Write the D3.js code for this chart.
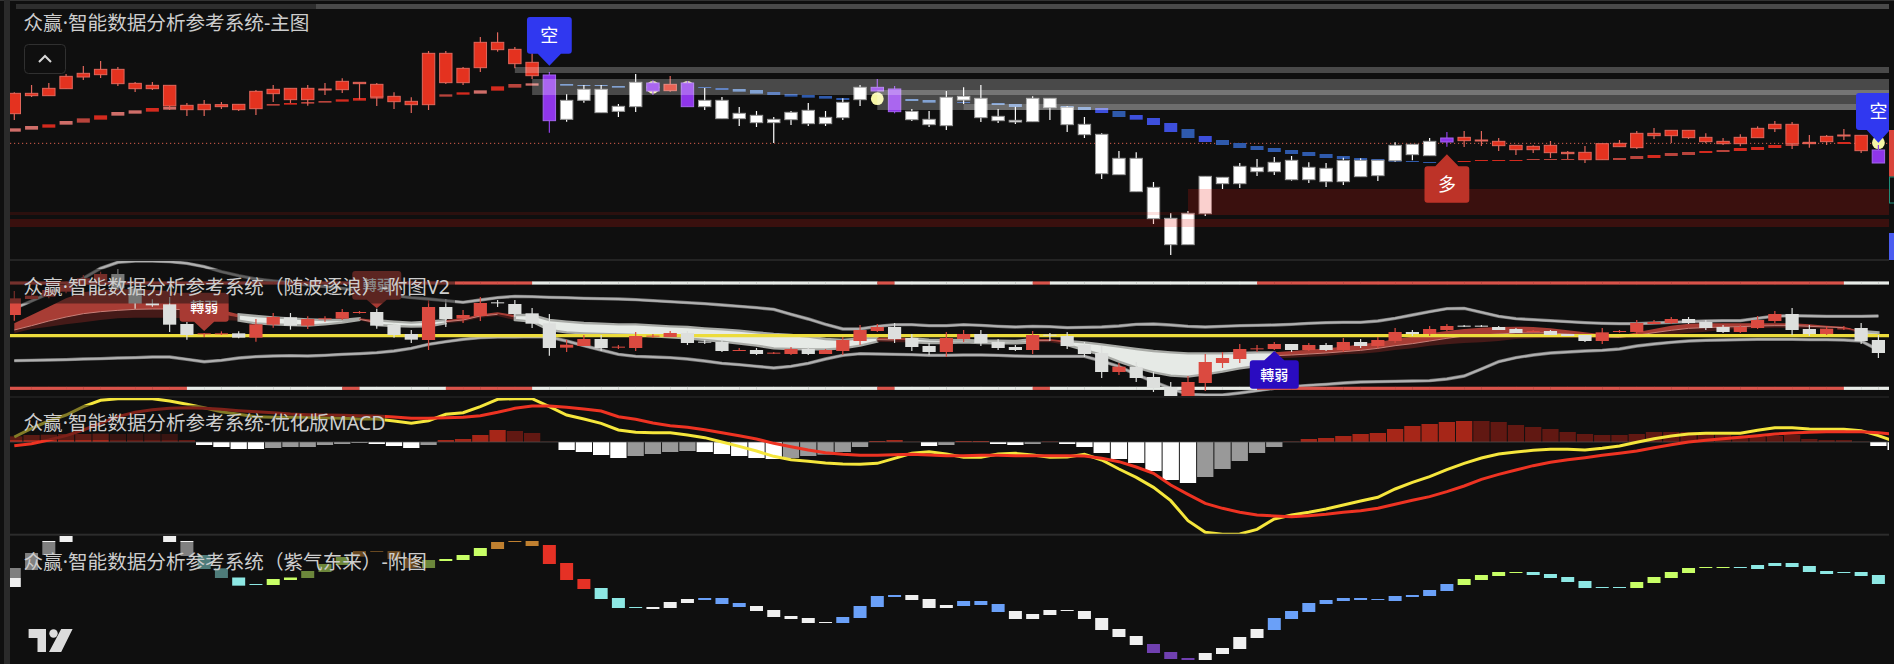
<!DOCTYPE html>
<html><head><meta charset="utf-8">
<script src="https://cdn.jsdelivr.net/npm/d3@7/dist/d3.min.js"></script>
<style>html,body{margin:0;background:#0f0f0f;overflow:hidden}svg{display:block}text{font-family:"Noto Sans","Noto Sans CJK SC",sans-serif}</style>
</head><body><div id="chart"></div>
<script>
const _ = null;
const titles = ["众赢·智能数据分析参考系统-主图","众赢·智能数据分析参考系统（随波逐浪）-附图V2","众赢·智能数据分析参考系统-优化版MACD","众赢·智能数据分析参考系统（紫气东来）-附图"];

// main pane, levels (larger level = lower on the page)
const mainHigh=[277,255,249,222,198,183,201,246,246,256,309,300,306,313,270,255,265,255,249,235,247,249,277,292,153,153,201,111,97,141,160,216,283,255,255,312,222,241,228,243,264,291,321,333,351,333,309,333,295,255,237,258,327,333,273,262,255,327,320,289,295,318,351,400,453,457,546,640,633,529,532,489,477,471,468,487,489,473,475,481,427,433,414,396,393,393,414,436,436,423,453,438,431,420,393,384,391,391,400,414,403,379,363,366,405,405,387,406,435];
const mainBodyTop=[280,280,265,229,220,208,208,250,256,256,316,313,314,313,274,268,265,265,267,244,247,253,289,304,160,160,205,127,127,148,187,225,301,268,268,319,247,249,253,249,301,301,340,346,358,337,331,352,307,262,262,267,334,358,292,289,295,349,361,295,295,322,373,403,475,475,562,655,640,529,532,499,502,487,481,502,505,481,481,481,436,433,424,414,412,420,424,436,439,436,457,457,431,430,400,400,391,391,412,424,412,385,373,373,427,409,405,406,450];
const mainBodyBot=[341,287,287,266,231,224,251,266,266,318,329,329,320,329,326,281,299,299,269,269,251,291,305,314,314,248,248,203,149,191,227,362,358,301,338,334,320,273,272,320,320,356,356,368,368,359,371,371,353,299,273,335,359,374,377,300,353,362,366,365,323,374,404,521,524,575,656,734,734,641,551,551,515,515,539,539,545,545,530,527,482,464,467,426,422,422,437,449,449,458,461,479,479,440,443,407,407,413,425,431,431,413,386,431,431,425,407,452,489];
const mainLow=[360,291,287,266,240,234,258,276,270,330,348,348,327,333,345,306,309,317,285,279,298,318,327,339,330,252,255,216,155,205,237,398,365,308,338,351,336,285,275,320,330,356,378,381,429,375,378,378,360,318,273,340,363,381,390,312,366,369,372,365,360,396,414,537,524,575,672,765,734,648,567,564,528,525,542,549,561,555,530,543,485,481,467,440,441,438,453,465,459,474,477,489,479,441,447,417,429,417,430,435,439,413,396,447,443,435,420,459,489];
const mainKindRuns=[["r",31],["p",1],["w",5],["p",1],["r",1],["p",1],["w",10],["p",2],["w",31],["p",1],["r",24],["p",1]];
const midTop=[385,378,373,363,355,346,336,331,324,321,_,_,_,_,_,312,309,306,303,298,294,289,_,_,_,283,277,271,259,252,250,_,252,255,255,258,_,_,_,_,261,264,267,270,276,282,285,288,294,_,_,_,297,300,_,306,_,309,312,_,_,318,321,324,333,345,354,369,387,408,420,429,438,444,450,456,462,468,474,477,482,483,486,_,483,480,480,480,477,477,477,_,_,474,468,465,459,456,453,450,444,441,435,432,426,_,426,_,_];
const midBot=[395,389,383,374,368,359,347,341,335,329,_,_,_,_,_,317,314,311,308,305,302,296,_,_,_,290,284,281,272,263,257,_,257,258,258,263,_,_,_,_,264,270,275,281,285,290,293,296,300,_,_,_,303,308,_,309,_,315,321,_,_,324,330,339,351,359,375,396,414,426,435,444,450,456,462,468,474,477,482,483,485,485,489,_,485,483,483,483,479,479,479,_,_,480,477,474,468,465,459,456,453,450,444,438,432,_,432,_,_];
const midTone="kkxkmxkkxk.....mxmmxxm...mxkxmk.aaaa....ccaaccccc...aa.c.aa..aavcvvvcvccccccccccccc.xxxxmmm..mmxmmxmxxxmx.x..";
const dotIndex=[37,39,50,108];
const dotLevel=[262,262,296,428];
const greyBands=[[201,219,29],[237,285,30],[270,330,50],[312,330,55]];
const redBands=[[636,645,0,68,0.13],[657,681,0,108,0.2],[567,645,68,108,0.2]];
const dottedLevel=430;
const mainMarkers=[[31,197,51,161,"空","#3038f0"],[108,428,279,390,"空","#3038f0"],[83,463,499,608,"多","#bd3328"]];

// second pane
const subHigh=[108,110,95,80,60,50,42,100,133,126,201,234,229,229,192,174,174,184,184,162,168,161,205,225,135,132,165,126,135,135,159,177,254,240,240,270,231,237,228,228,255,252,279,279,291,276,276,282,246,210,207,204,237,264,231,225,225,252,270,228,234,231,261,273,324,321,351,381,363,297,291,267,270,261,267,264,264,249,252,246,219,225,213,207,210,210,213,219,225,225,237,240,219,225,195,195,186,186,195,210,210,183,168,159,210,213,213,204,240];
const subTop=[130,122,105,90,70,57,57,100,145,148,207,235,235,235,208,186,187,192,190,171,171,171,210,237,156,156,180,144,142,147,175,205,269,252,252,275,243,242,234,234,260,261,285,285,293,282,282,285,255,225,216,216,249,273,249,237,237,261,276,240,239,243,270,294,335,336,366,396,381,321,309,282,280,267,267,270,270,261,261,255,231,231,222,213,212,212,216,222,228,228,237,240,232,228,204,201,192,192,201,216,216,195,177,177,222,221,220,219,255];
const subBot=[180,132,125,110,88,77,100,145,151,209,240,237,237,248,248,209,212,212,192,191,173,212,240,254,255,192,191,183,144,177,206,279,278,273,279,277,279,244,246,264,262,288,287,297,295,297,297,297,288,258,228,252,276,291,291,252,264,279,285,285,241,273,297,351,351,369,399,426,426,384,324,312,282,282,285,285,285,285,273,273,258,237,237,225,214,214,225,234,230,240,243,258,258,230,231,207,204,204,219,231,231,219,198,225,237,237,222,258,294];
const subLow=[197,134,130,115,92,80,105,161,155,231,254,246,240,250,260,218,224,222,200,195,176,221,248,264,285,216,204,198,156,186,219,302,291,273,288,282,288,249,246,270,267,291,288,300,297,300,300,297,300,270,231,264,288,300,306,261,273,285,288,297,258,282,306,369,360,381,411,427,427,408,339,324,291,285,291,288,288,291,279,279,264,243,243,228,216,216,225,234,232,240,243,261,267,233,237,207,207,207,225,234,234,222,204,240,243,240,225,267,309];
const subKind="rrrrrrwwww"+"wrrwrrwrrr"+"rwwwrwrrww"+"wwrrwrrrrw"+"wwrwrrwrrr"+"rwwwrrwwwr"+"wwwwrwwwrr"+"rrrrwrwrwr"+"rwrrwwwwrw"+"wwrrrrrwww"+"rrrwwrrww";
const upperBand=[160,138,115,95,70,40,22,18,18,20,25,35,50,62,72,78,83,90,95,100,108,116,122,128,132,137,142,135,128,124,125,127,128,130,131,132,134,137,140,143,146,150,154,158,163,178,192,208,222,222,214,209,209,212,212,209,211,214,216,214,215,218,217,216,213,208,207,210,214,216,214,212,211,210,208,205,203,202,202,198,190,180,170,161,160,172,184,191,194,197,200,203,205,206,206,204,202,200,198,197,197,190,183,182,183,184,184,184,183];
const lowerBand=[317,316,315,314,312,311,309,308,306,306,313,320,316,309,305,303,302,303,301,298,296,293,288,280,268,260,253,248,246,246,245,246,258,272,285,298,304,306,308,312,318,325,329,334,339,334,325,312,301,296,297,298,299,301,301,300,300,301,303,304,304,304,304,318,335,358,380,400,418,420,420,414,407,400,395,391,388,384,381,380,379,378,377,372,363,342,320,308,300,294,291,288,286,282,273,267,262,258,256,255,254,253,253,253,254,254,255,258,285];
const ribbonTop=[205,180,155,130,112,105,103,103,105,108,120,145,165,178,183,187,190,193,195,195,190,196,200,203,200,195,190,178,172,180,180,195,200,204,206,208,208,211,214,216,220,223,227,232,237,240,245,252,255,250,248,247,250,254,255,255,257,257,258,252,252,258,262,268,275,282,288,292,295,295,295,294,292,292,288,284,280,275,268,262,252,245,235,228,222,218,216,215,216,220,226,232,238,243,232,222,212,206,205,205,205,205,205,205,208,212,215,228,232];
const ribbonBot=[235,222,215,208,202,195,190,188,188,188,190,192,195,197,205,208,210,212,208,203,195,210,213,215,214,205,200,188,183,195,200,225,232,235,237,238,240,244,247,250,255,260,266,272,280,282,283,283,280,272,260,262,262,264,264,262,264,265,265,262,262,270,285,300,320,338,352,362,365,358,350,340,333,310,308,305,303,298,296,292,285,280,272,268,264,262,258,252,250,248,248,250,250,250,248,244,238,234,230,225,222,220,218,220,220,220,220,238,240];
const ribbonMid=[225,212,198,186,176,170,166,163,162,162,165,172,178,_,_,_,_,_,_,_,193,_,_,_,_,200,195,183,178,_,_,_,_,_,_,_,_,_,_,_,_,_,_,_,_,_,_,_,_,_,254,255,_,_,_,_,_,_,_,257,257,_,_,_,_,_,_,_,_,_,_,_,_,302,300,297,294,290,286,280,272,266,258,250,243,240,237,234,234,234,237,241,246,247,241,233,226,220,218,216,215,213,212,212,214,216,218,_,_];
const ribbonRuns=[["r",13],["w",7],["r",1],["w",4],["r",4],["w",21],["r",2],["w",7],["r",2],["w",12],["r",34],["w",2]];
const railTopRuns=[["r",30],["w",20],["r",1],["w",8],["r",1],["w",12],["r",34],["w",3]];
const railBotRuns=[["r",10],["w",9],["r",1],["w",5],["r",5],["w",20],["r",1],["w",8],["r",1],["w",12],["r",34],["w",3]];
const railLevels=[84,400];
const yellowLevel=242;
const subMarkers=[[11,228,113,200,"轉弱","#a83a33"],[21,160,48,134,"轉弱","#a83a33"],[73,288,316,401,"轉弱","#2a0cc0"]];

// MACD pane
const histZero=141;
const histLevel=[124,120,119,117,117,116,117,116,116,117,135,150,156,162,162,159,156,156,150,147,144,147,153,159,150,135,132,120,105,108,114,140,165,171,180,189,183,177,171,168,171,177,183,189,192,189,183,179,171,156,138,135,140,153,150,138,138,147,150,147,139,147,156,174,192,204,228,255,264,246,222,198,174,156,140,132,129,123,117,114,102,93,87,81,78,78,81,90,96,102,111,117,120,120,117,111,111,111,117,120,123,126,123,120,132,135,135,140,153,165];
const histRuns=[["a",6],["d",5],["w",4],["g",6],["w",3],["g",1],["a",4],["d",3],["w",4],["g",4],["w",5],["g",5],["a",2],["d",1],["w",1],["g",1],["a",2],["w",2],["g",1],["d",1],["w",8],["g",5],["a",11],["d",23],["w",2]];
const macdLine=[126,100,78,60,35,16,11,11,11,18,28,38,50,58,65,67,67,67,68,70,72,72,78,85,77,58,53,35,13,11,11,35,60,72,85,105,112,113,113,120,128,141,154,168,184,194,199,204,207,208,205,190,175,170,177,187,187,177,175,180,187,186,178,195,222,247,277,317,377,412,418,417,403,372,360,352,342,330,318,307,282,262,245,224,205,189,177,171,166,163,163,165,160,153,142,131,123,117,115,115,115,106,98,98,102,103,103,107,122,140];
const signalLine=[152,146,135,122,105,85,65,52,44,40,38,40,43,47,50,53,57,59,60,61,62,63,66,70,70,68,67,62,52,40,33,33,37,42,48,65,73,84,92,97,104,113,122,132,145,155,165,173,178,181,181,179,178,180,182,182,181,181,182,182,182,182,183,190,200,216,235,270,298,325,340,352,360,363,365,362,358,352,347,340,328,316,305,290,273,253,238,225,212,202,194,188,181,175,168,158,149,141,136,131,127,122,117,114,112,110,110,110,113,118];

// last pane
const cloudTop=[114,69,33,18,_,_,_,_,_,18,33,75,115,141,162,147,141,123,102,81,63,63,63,84,90,87,75,54,36,33,33,45,99,147,174,204,231,231,216,207,204,204,219,228,240,258,264,276,261,228,198,195,195,207,225,213,213,222,243,252,240,240,243,264,297,318,342,366,384,369,354,321,297,264,243,219,210,204,204,207,198,195,180,162,147,135,126,126,126,132,141,153,171,171,156,141,126,114,111,111,111,105,99,99,108,123,126,126,135,159];
const cloudBot=[171,120,75,36,_,_,_,_,_,36,78,117,144,167,164,165,150,144,126,105,80,65,87,114,114,93,90,78,57,36,48,102,150,177,207,234,233,237,234,219,210,222,231,243,261,267,279,279,279,264,231,201,210,234,234,228,225,246,267,267,255,243,267,300,321,345,369,387,390,390,372,357,324,300,267,246,222,213,210,210,213,201,198,183,165,150,138,129,135,144,156,174,174,174,174,159,144,129,114,114,114,117,108,111,126,132,129,138,162,186];
const cloudRuns=[["w",11],["t",4],["l",5],["o",4],["l",4],["o",3],["r",3],["t",3],["w",3],["b",3],["w",5],["b",4],["w",3],["b",3],["w",8],["p",3],["w",4],["b",11],["l",4],["t",6],["l",6],["t",10]];

const W=1894,H=664,RIGHT=1889,LEFT=10;
const expand=r=>r.flatMap(([k,n])=>Array(n).fill(k));
const mainKind=expand(mainKindRuns), ribbonKind=expand(ribbonRuns), railTop=expand(railTopRuns), railBot=expand(railBotRuns), histKind=expand(histRuns), cloudKind=expand(cloudRuns);
const x=d3.scaleLinear().domain([0,108]).range([14.3,1878.4]);
const yMain=d3.scaleLinear().domain([0,780]).range([0,260]);
const ySub=d3.scaleLinear().domain([0,450]).range([255,405]);
const yMacd=d3.scaleLinear().domain([0,420]).range([395,535]);
const yCloud=d3.scaleLinear().domain([0,402]).range([530,664]);
const svg=d3.select("#chart").append("svg").attr("width",W).attr("height",H);
svg.append("rect").attr("width",W).attr("height",H).attr("fill","#0f0f0f");
const defs=svg.append("defs");
function pane(id,y0,y1){defs.append("clipPath").attr("id",id).append("rect").attr("x",LEFT).attr("y",y0).attr("width",RIGHT-LEFT).attr("height",y1-y0);return svg.append("g").attr("clip-path",`url(#${id})`);}
const pMain=pane("cMain",0,260),pSub=pane("cSub",261,396),pMacd=pane("cMacd",398,534),pCloud=pane("cCloud",536,664);

// chrome
svg.append("rect").attr("x",0).attr("y",0).attr("width",W).attr("height",1).attr("fill","#333");
svg.append("rect").attr("x",16).attr("y",4).attr("width",300).attr("height",5).attr("fill","#2e2e2e");
svg.append("rect").attr("x",316).attr("y",4).attr("width",RIGHT-316).attr("height",5).attr("fill","#4a4a4a");
svg.append("rect").attr("x",4).attr("y",0).attr("width",6).attr("height",H).attr("fill","#2a2a2a");
[[260,1.5],[397,1],[534.7,2]].forEach(([y,s])=>svg.append("rect").attr("x",LEFT).attr("y",y-s/2).attr("width",RIGHT-LEFT).attr("height",s).attr("fill","#2c2c2c"));

const idx=d3.range(109);
function candles(g,ys,high,top,bot,low,kind,color,wd,stroke){
  g.selectAll(null).data(idx).join("line").attr("x1",x).attr("x2",x).attr("y1",i=>ys(high[i])).attr("y2",i=>ys(low[i])).attr("stroke",i=>color[kind[i]].wick).attr("stroke-width",1.2);
  g.selectAll(null).data(idx).join("rect").attr("x",i=>x(i)-wd/2).attr("width",wd)
   .attr("y",i=>ys(top[i])).attr("height",i=>Math.max(1,ys(bot[i])-ys(top[i])))
   .attr("fill",i=>color[kind[i]].fill).attr("stroke",i=>stroke?color[kind[i]].edge:"none").attr("stroke-width",stroke?1:0);
}
function marker(g,ys,[i,tip,t,b,label,col],hw,ph,fs,bold){
  const c=x(i),y0=ys(t),y1=ys(b),yt=ys(tip),r=3,down=yt>y1;
  const path=d3.path();
  path.moveTo(c-hw+r,y0);
  if(!down){path.lineTo(c-ph,y0);path.lineTo(c,yt);path.lineTo(c+ph,y0);}
  path.lineTo(c+hw-r,y0);path.quadraticCurveTo(c+hw,y0,c+hw,y0+r);
  path.lineTo(c+hw,y1-r);path.quadraticCurveTo(c+hw,y1,c+hw-r,y1);
  if(down){path.lineTo(c+ph,y1);path.lineTo(c,yt);path.lineTo(c-ph,y1);}
  path.lineTo(c-hw+r,y1);path.quadraticCurveTo(c-hw,y1,c-hw,y1-r);
  path.lineTo(c-hw,y0+r);path.quadraticCurveTo(c-hw,y0,c-hw+r,y0);path.closePath();
  g.append("path").attr("d",path.toString()).attr("fill",col);
  g.append("text").attr("x",c).attr("y",(y0+y1)/2).attr("dy","0.36em").attr("text-anchor","middle").attr("font-size",fs).attr("font-family",'"Noto Sans CJK TC"').attr("font-weight",bold?500:400).attr("fill","#fff").text(label);
}

// ---- main pane
pMain.append("line").attr("x1",LEFT).attr("x2",RIGHT).attr("y1",yMain(dottedLevel)).attr("y2",yMain(dottedLevel)).attr("stroke","#d8604f").attr("stroke-dasharray","1.2 2.8");
const toneCol={k:"#cf6e69",x:"#d42a1e",m:"#b8443c",a:"#5a84c4",c:"#2f5aac",v:"#3d4fdc"};
pMain.selectAll(null).data(idx.filter(i=>midTop[i]!==null)).join("rect").attr("x",i=>x(i)-6.5).attr("width",13).attr("y",i=>yMain(midTop[i])).attr("height",i=>Math.max(1,yMain(midBot[i])-yMain(midTop[i]))).attr("fill",i=>toneCol[midTone[i]]);
pMain.selectAll(null).data(dotIndex).join("ellipse").attr("cx",x).attr("cy",(d,k)=>yMain(dotLevel[k])).attr("rx",6.4).attr("ry",6.4).attr("fill","#f6f6a6");
candles(pMain,yMain,mainHigh,mainBodyTop,mainBodyBot,mainLow,mainKind,{
  r:{fill:"#e4321f",edge:"#e2675c",wick:"#e2675c"},
  w:{fill:"#ffffff",edge:"#9a9a9a",wick:"#ffffff"},
  p:{fill:"#8f35ea",edge:"#a366ee",wick:"#9040e8"}},12.4,true);
redBands.forEach(([a,b,i0,i1,op])=>pMain.append("rect").attr("x",i0===0?LEFT:x(i0)).attr("width",RIGHT-(i0===0?LEFT:x(i0))-(i1===68?RIGHT-x(68):0)).attr("y",yMain(a)).attr("height",yMain(b)-yMain(a)).attr("fill",`rgba(230,20,10,${op})`));
greyBands.forEach(([a,b,i0],k)=>pMain.append("rect").attr("x",x(i0)).attr("width",RIGHT-x(i0)).attr("y",yMain(a)).attr("height",yMain(b)-yMain(a)).attr("fill",`rgba(255,255,255,${k===3?0.2:0.245})`));
mainMarkers.forEach(m=>marker(pMain,yMain,m,22.4,11.6,18,false));

// ---- second pane
const runs=k=>{const o=[];let s=0;for(let i=1;i<=k.length;i++){if(i===k.length||k[i]!==k[s]){o.push([k[s],s,i]);s=i;}}return o;};
const rails=(lv,kinds)=>kinds.forEach((k,i)=>pSub.append("rect").attr("x",i===0?LEFT:x(i)).attr("width",(i===108?RIGHT:x(i+1))-(i===0?LEFT:x(i))+0.3).attr("y",ySub(lv)-1.6).attr("height",3.2).attr("fill",k==="r"?"#d9534a":"#e8ece8"));
runs(ribbonKind).forEach(([k,a,b])=>{
  const ids=d3.range(a,Math.min(b+1,109));
  if(k==="w"){
    pSub.append("path").attr("d",d3.area().x(x).y0(i=>ySub(ribbonTop[i])).y1(i=>ySub(ribbonBot[i]))(ids)).attr("fill","#e6eae6").attr("stroke","#a8aaa6").attr("stroke-width",2.4);
  } else {
    const rd=ids.filter(i=>ribbonMid[i]!==null);
    const use=rd.length>1?rd:ids;
    const midAt=i=>ribbonMid[i]!==null?ribbonMid[i]:(ribbonTop[i]+ribbonBot[i])/2;
    pSub.append("path").attr("d",d3.area().x(x).y0(i=>ySub(midAt(i))).y1(i=>ySub(ribbonBot[i]))(ids)).attr("fill","#451a18");
    pSub.append("path").attr("d",d3.area().x(x).y0(i=>ySub(ribbonTop[i])).y1(i=>ySub(midAt(i)))(ids)).attr("fill","#a83d35");
    pSub.append("path").attr("d",d3.line().x(x).y(i=>ySub(midAt(i)))(use)).attr("fill","none").attr("stroke","#c97f78").attr("stroke-width",1);
  }
});
[upperBand,lowerBand].forEach(b=>{
  pSub.append("path").attr("d",d3.line().x(x).y(i=>ySub(b[i]))(idx)).attr("fill","none").attr("stroke","#777").attr("stroke-width",3.4);
  pSub.append("path").attr("d",d3.line().x(x).y(i=>ySub(b[i]))(idx)).attr("fill","none").attr("stroke","#b0b0b0").attr("stroke-width",2);
});
rails(railLevels[0],railTop);rails(railLevels[1],railBot);
pSub.append("line").attr("x1",LEFT).attr("x2",RIGHT).attr("y1",ySub(yellowLevel)).attr("y2",ySub(yellowLevel)).attr("stroke","#ecdc3c").attr("stroke-width",3.2);
candles(pSub,ySub,subHigh,subTop,subBot,subLow,subKind,{r:{fill:"#db4a40",wick:"#db4a40"},w:{fill:"#dddfdd",wick:"#dddfdd"}},13.2,false);
subMarkers.forEach(m=>marker(pSub,ySub,m,24.5,10,14,true));

// ---- MACD pane
const histCol={a:"#a62618",d:"#611812",w:"#ffffff",g:"#999999"};
const histIdx=d3.range(110);
pMacd.selectAll(null).data(histIdx).join("rect").attr("x",i=>x(i)-8.15).attr("width",16.3)
  .attr("y",i=>yMacd(Math.min(histLevel[i],histZero))).attr("height",i=>Math.abs(yMacd(histLevel[i])-yMacd(histZero))).attr("fill",i=>histCol[histKind[i]]);
pMacd.append("line").attr("x1",LEFT).attr("x2",RIGHT).attr("y1",yMacd(histZero)).attr("y2",yMacd(histZero)).attr("stroke","#555").attr("stroke-opacity",.7).attr("stroke-width",1);
pMacd.append("path").attr("d",d3.line().x(x).y(i=>yMacd(macdLine[i]))(histIdx)).attr("fill","none").attr("stroke","#f5e63c").attr("stroke-width",3);
pMacd.append("path").attr("d",d3.line().x(x).y(i=>yMacd(signalLine[i]))(histIdx)).attr("fill","none").attr("stroke","#ee3322").attr("stroke-width",3);

// ---- last pane
const cloudCol={w:"#f0f0f0",o:"#c08030",r:"#e53125",t:"#8de8e4",l:"#c8ff66",b:"#6aa0f8",p:"#7040b0"};
pCloud.selectAll(null).data(histIdx.filter(i=>cloudTop[i]!==null)).join("rect").attr("x",i=>x(i)-6.5).attr("width",13).attr("y",i=>yCloud(cloudTop[i])).attr("height",i=>Math.max(1,yCloud(cloudBot[i])-yCloud(cloudTop[i]))).attr("fill",i=>cloudCol[cloudKind[i]]);

// ---- legends
[[pMain,5,41,320,0],[pSub,269,303.5,455,1],[pMacd,405,440,385,2],[pCloud,542,578,435,3]].forEach(([g,y0,y1,xr,k])=>{
  g.append("rect").attr("x",LEFT).attr("y",y0).attr("width",xr-LEFT).attr("height",y1-y0).attr("fill","#0f0f0f").attr("fill-opacity",.5);
});
const titleY=[23,287,423,562];
titles.forEach((t,k)=>svg.append("text").attr("x",23.5).attr("y",titleY[k]).attr("dy","0.36em").attr("font-size",19.6).attr("fill","#cdcdcd").text(t));

// ---- button and logo
svg.append("rect").attr("x",24.5).attr("y",44.5).attr("width",41).attr("height",29).attr("rx",4).attr("fill","#0f0f0f").attr("stroke","#303030");
svg.append("path").attr("d","M39 62 L45 56 L51 62").attr("fill","none").attr("stroke","#d8d8d8").attr("stroke-width",2);
svg.append("path").attr("d","M28.6 629H46V652H37.5V638H28.6Z M72.6 629H61.2L49 652H61.2Z").attr("fill","#dcdcdc");
svg.append("circle").attr("cx",53.5).attr("cy",633.5).attr("r",4.2).attr("fill","#dcdcdc");

// ---- right strip
[[130,46.7,"#d9443a"],[233,27,"#4a5cf0"]].forEach(([y,h,c])=>svg.append("rect").attr("x",RIGHT).attr("y",y).attr("width",5).attr("height",h).attr("fill",c));
svg.append("rect").attr("x",RIGHT+.5).attr("y",177).attr("width",5).attr("height",26).attr("fill","none").attr("stroke","#1f8f7a");
</script></body></html>
